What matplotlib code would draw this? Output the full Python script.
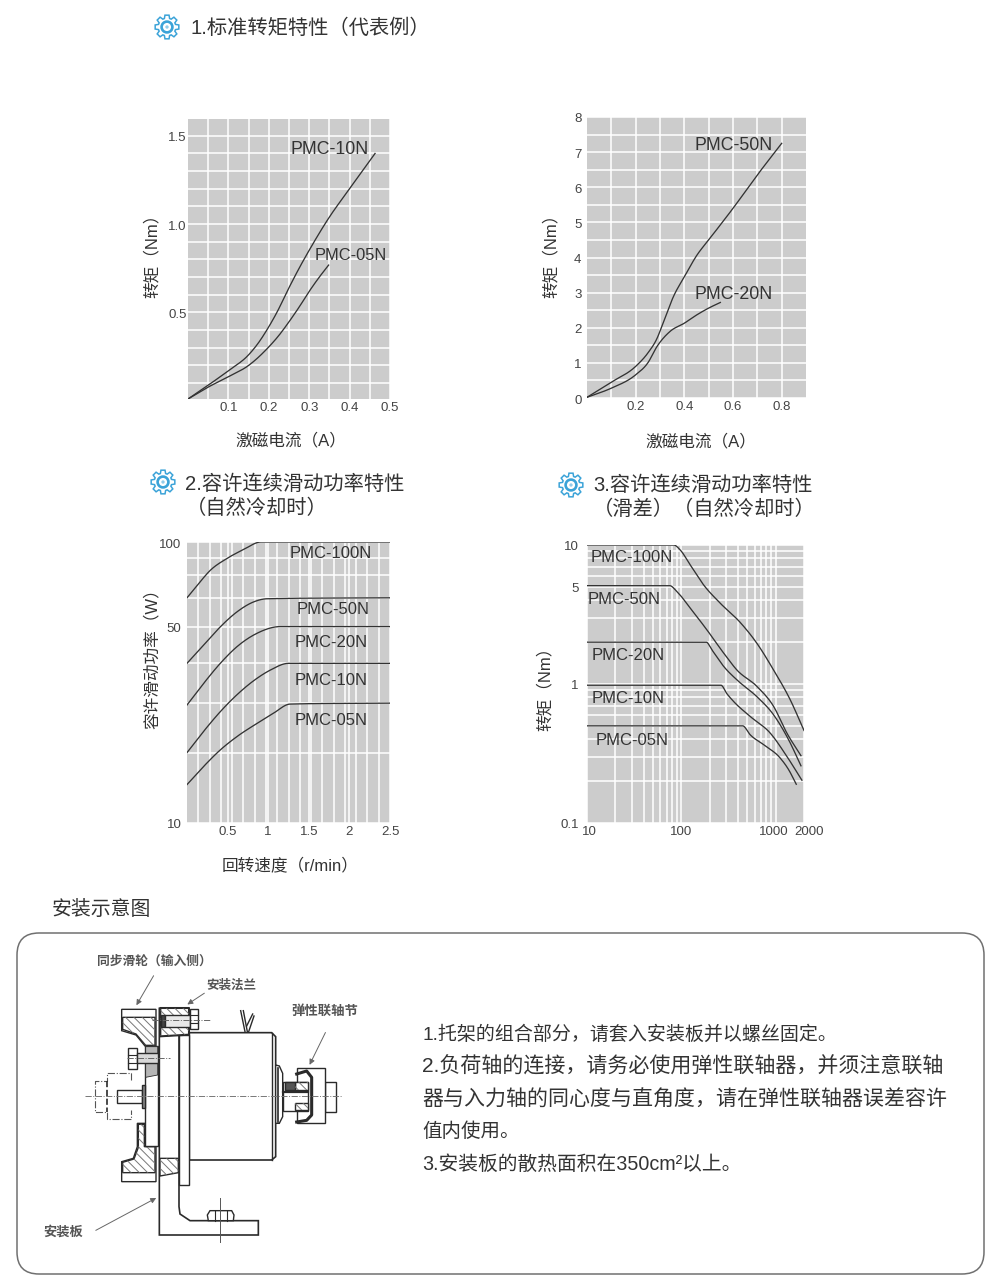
import matplotlib
matplotlib.use("Agg")
import matplotlib.pyplot as plt
import numpy as np
from matplotlib.patches import Polygon, FancyBboxPatch, Circle
from matplotlib.transforms import ScaledTranslation

plt.rcParams['font.family'] = ['Liberation Sans', 'Noto Sans CJK SC', 'DejaVu Sans']
plt.rcParams['hatch.linewidth'] = 0.7

W, H = 1000, 1287
GRAY = "#cccccc"
INK = "#333333"
BLUE = "#3ba3d8"

# 图1 标准转矩特性
c1_x_10 = [0, .048, .1, .15, .175, .195, .22, .25, .275, .302, .35, .4, .463]
c1_y_10 = [.01, .085, .17, .26, .33, .40, .50, .64, .75, .86, 1.04, 1.20, 1.40]
c1_x_05 = [0, .048, .1, .15, .198, .225, .25, .275, .302, .325, .348]
c1_y_05 = [.01, .075, .136, .20, .30, .37, .447, .53, .626, .70, .768]
c1_xgrid = [.05, .15, .25, .35, .45, .1, .2, .3, .4, .5]
c1_ygrid = [.1, .2, .3, .4, .6, .7, .8, .9, 1.1, 1.2, 1.3, 1.4, .5, 1.0, 1.5]

# 图2
c2_x_50 = [0, .1, .2, .25, .288, .315, .356, .4, .452, .5, .6, .7, .8]
c2_y_50 = [.02, .45, .9, 1.28, 1.70, 2.18, 2.9, 3.45, 4.07, 4.5, 5.4, 6.35, 7.25]
c2_x_20 = [0, .1, .2, .25, .288, .342, .4, .452, .5, .548]
c2_y_20 = [.02, .28, .66, 1.0, 1.47, 1.9, 2.13, 2.37, 2.56, 2.72]
c2_xgrid = [.1, .2, .3, .4, .5, .6, .7, .8]
c2_ygrid = [.5, 1, 1.5, 2, 2.5, 3, 3.5, 4, 4.5, 5, 5.5, 6, 6.5, 7, 7.5]

# 图3 容许连续滑动功率
c3_x_100 = [0, .143, .287, .49, .697, .91, 2.5]
c3_y_100 = [63.3, 71.1, 79.3, 87.3, 94, 100, 100]
c3_x_50 = [0, .205, .41, .615, .82, .984, 2.5]
c3_y_50 = [37, 43, 49.9, 56.4, 61.2, 62.8, 63.3]
c3_x_20 = [0, .205, .41, .615, .86, 1.148, 2.5]
c3_y_20 = [26.3, 31.4, 37, 42.4, 47.3, 50, 50]
c3_x_10 = [0, .205, .41, .615, .86, 1.025, 1.25, 2.5]
c3_y_10 = [17.8, 21.2, 24.9, 28.6, 32.7, 35, 37, 37]
c3_x_05 = [0, .205, .41, .615, .86, 1.066, 1.27, 2.5]
c3_y_05 = [13.7, 15.9, 18.2, 20.3, 22.6, 24.6, 26.5, 26.7]
c3_xgrid = [2.5 * k / 18 for k in range(1, 18)]
c3_ygrid = [17.8, 26.7, 37, 63, 76.5, 88]

# 图4 滑差
c4_x_100 = [10, 83, 97.5, 124.5, 172.5, 259, 422, 634, 952, 1429, 2000]
c4_y_100 = [10, 10, 9.2, 7.18, 5.16, 3.81, 2.77, 1.96, 1.26, .77, .463]
c4_x_50 = [10, 75.2, 90, 124.5, 187, 281, 389, 634, 952, 1318, 1857]
c4_y_50 = [5.1, 5.1, 4.62, 3.51, 2.45, 1.67, 1.26, .96, .69, .443, .305]
c4_x_20 = [10, 184, 211, 281, 389, 634, 952, 1374, 1857]
c4_y_20 = [2, 2, 1.76, 1.34, 1.07, .81, .6, .397, .258]
c4_x_10 = [10, 263, 305, 359, 538, 878, 1318, 1901]
c4_y_10 = [.98, .98, .85, .748, .584, .443, .301, .203]
c4_x_05 = [10, 447, 538, 746, 1120, 1374, 1656]
c4_y_05 = [.5, .5, .431, .366, .293, .242, .19]
c4_xgrid = [20, 30, 40, 50, 60, 70, 80, 90, 200, 300, 400, 500, 600, 700, 800, 900]
c4_ygrid = [.2, .3, .4, .5, .6, .7, .8, .9, 2, 3, 4, 6, 7, 8, 9]

body_lines = [
    "1.托架的组合部分，请套入安装板并以螺丝固定。",
    "2.负荷轴的连接，请务必使用弹性联轴器，并须注意联轴",
    "器与入力轴的同心度与直角度，请在弹性联轴器误差容许",
    "值内使用。",
    "3.安装板的散热面积在350cm²以上。",
]
body_y = [1033, 1065, 1098, 1130, 1163]
body_size = [13.7, 15.1, 15.1, 14, 14.2]

fig = plt.figure(figsize=(W / 100, H / 100), dpi=100, facecolor="white")


def chart(box, xlim, ylim, xscale="linear", yscale="linear"):
    l, t, r, b = box
    ax = fig.add_axes([l / W, 1 - b / H, (r - l) / W, (b - t) / H])
    ax.set_facecolor(GRAY)
    for s in ax.spines.values():
        s.set_visible(False)
    ax.set_xscale(xscale)
    ax.set_yscale(yscale)
    ax.set_xlim(xlim)
    ax.set_ylim(ylim)
    return ax


def finish(ax, xticks, xlabels, yticks, ylabels, xgrid, ygrid, ypad):
    ax.set_xticks(xticks, xlabels)
    ax.set_yticks(yticks, ylabels)
    ax.set_xticks(xgrid, [""] * len(xgrid), minor=True)
    ax.set_yticks(ygrid, [""] * len(ygrid), minor=True)
    ax.grid(which="both", color="white", lw=1.1)
    ax.set_axisbelow(True)
    ax.tick_params(which="both", length=0, labelsize=9.5, labelcolor="#444444")
    ax.tick_params(axis="x", which="major", pad=2.5)
    ax.tick_params(axis="y", which="major", pad=ypad)
    for lab in ax.get_yticklabels():
        lab.set_transform(lab.get_transform() + ScaledTranslation(0, -1 / 100, fig.dpi_scale_trans))


def hermite(x, y):
    # 单调三次样条，只用来把读出的点连成平滑曲线
    x, y = np.asarray(x, float), np.asarray(y, float)
    h = np.diff(x)
    m = np.diff(y) / h
    t = np.zeros_like(x)
    t[0], t[-1] = m[0], m[-1]
    for i in range(1, len(x) - 1):
        if m[i - 1] * m[i] > 0:
            avg = (h[i] * m[i - 1] + h[i - 1] * m[i]) / (h[i - 1] + h[i])
            t[i] = np.sign(avg) * min(abs(avg), 3 * min(abs(m[i - 1]), abs(m[i])))
    xs, ys = [], []
    for i in range(len(h)):
        u = np.linspace(0, 1, 25)
        xs.append(x[i] + u * h[i])
        ys.append((2 * u**3 - 3 * u**2 + 1) * y[i] + (u**3 - 2 * u**2 + u) * h[i] * t[i]
                  + (3 * u**2 - 2 * u**3) * y[i + 1] + (u**3 - u**2) * h[i] * t[i + 1])
    return np.concatenate(xs), np.concatenate(ys)


def curve(ax, x, y):
    logx, logy = ax.get_xscale() == "log", ax.get_yscale() == "log"
    xs, ys = hermite(np.log10(x) if logx else x, np.log10(y) if logy else y)
    ax.plot(10**xs if logx else xs, 10**ys if logy else ys, color=INK, lw=0.95)


# 四个图
ax1 = chart((188, 119, 390, 399), (0, .5), (.01, 1.595))
curve(ax1, c1_x_10, c1_y_10)
curve(ax1, c1_x_05, c1_y_05)
finish(ax1, [.1, .2, .3, .4, .5], ["0.1", "0.2", "0.3", "0.4", "0.5"],
       [.5, 1.0, 1.5], ["0.5", "1.0", "1.5"], c1_xgrid, c1_ygrid, 1)

ax2 = chart((587, 117, 806, 398), (0, .9), (0, 8))
curve(ax2, c2_x_50, c2_y_50)
curve(ax2, c2_x_20, c2_y_20)
finish(ax2, [.2, .4, .6, .8], ["0.2", "0.4", "0.6", "0.8"],
       list(range(9)), [str(i) for i in range(9)], c2_xgrid, c2_ygrid, 4)

ax3 = chart((187, 542, 390, 823), (0, 2.5), (10, 100), yscale="log")
for xs, ys in [(c3_x_100, c3_y_100), (c3_x_50, c3_y_50), (c3_x_20, c3_y_20),
               (c3_x_10, c3_y_10), (c3_x_05, c3_y_05)]:
    curve(ax3, xs, ys)
finish(ax3, [.5, 1, 1.5, 2, 2.5], ["0.5", "1", "1.5", "2", "2.5"],
       [10, 50, 100], ["10", "50", "100"], c3_xgrid, c3_ygrid, 4)

ax4 = chart((587, 545, 804, 823), (10, 2000), (.1, 10), "log", "log")
for xs, ys in [(c4_x_100, c4_y_100), (c4_x_50, c4_y_50), (c4_x_20, c4_y_20),
               (c4_x_10, c4_y_10), (c4_x_05, c4_y_05)]:
    curve(ax4, xs, ys)
finish(ax4, [10, 100, 1000, 2000], ["10", "100", "1000", "2000"],
       [.1, 1, 5, 10], ["0.1", "1", "5", "10"], c4_xgrid, c4_ygrid, 6)
for lab, dx in zip(ax4.get_xticklabels(), [2, 0, -2, 5]):
    lab.set_transform(lab.get_transform() + ScaledTranslation(dx / 100, 0, fig.dpi_scale_trans))

# 整页坐标的覆盖层：文字、图标、外框
ov = fig.add_axes([0, 0, 1, 1], zorder=5)
ov.set_xlim(0, W)
ov.set_ylim(H, 0)
ov.axis("off")


def label(x, y, s, size=12, ha="center", rot=0, color=INK):
    if rot:
        x += 2
    else:
        y += 1.5
    ov.text(x, y, s, fontsize=size, ha=ha, va="center", rotation=rot, color=color)


def gear(cx, cy, r=12):
    ang, rad = [], []
    for k in range(8):
        a = k * np.pi / 4
        ang += [a - .30, a - .17, a + .17, a + .30]
        rad += [r * .74, r, r, r * .74]
    ang = np.array(ang)
    rad = np.array(rad)
    ov.add_patch(Polygon(np.c_[cx + rad * np.cos(ang), cy + rad * np.sin(ang)],
                         closed=True, fc="white", ec=BLUE, lw=1.1))
    ov.add_patch(Circle((cx, cy), r * .45, fc="white", ec=BLUE, lw=1.9))
    ov.add_patch(Circle((cx, cy), r * .14, fc=BLUE, ec="none", alpha=.55))


gear(167, 27)
gear(163, 482)
gear(571, 485)
label(190, 27, "1.标准转矩特性（代表例）", 14.6, "left")
label(185, 482.5, "2.容许连续滑动功率特性", 14.6, "left")
label(186, 507, "（自然冷却时）", 14.6, "left")
label(593, 484, "3.容许连续滑动功率特性", 14.6, "left")
label(593, 508, "（滑差）（自然冷却时）", 14.6, "left")
label(52, 908, "安装示意图", 14.3, "left")

label(291, 439, "激磁电流（A）")
label(701, 440, "激磁电流（A）")
label(290, 864, "回转速度（r/min）")
label(150, 252, "转矩（Nm）", rot=90)
label(549, 252, "转矩（Nm）", rot=90)
label(150, 655, "容许滑动功率（W）", rot=90)
label(543, 685, "转矩（Nm）", rot=90)

for x, y, s, fs in [(330, 148, "PMC-10N", 12.8), (351, 254, "PMC-05N", 11.8),
                    (734, 144, "PMC-50N", 12.8), (734, 293, "PMC-20N", 12.8),
                    (331, 552, "PMC-100N", 12), (333, 608, "PMC-50N", 12), (331, 641, "PMC-20N", 12),
                    (331, 679, "PMC-10N", 12), (331, 719, "PMC-05N", 12),
                    (632, 556, "PMC-100N", 12), (624, 598, "PMC-50N", 12), (628, 654, "PMC-20N", 12),
                    (628, 697, "PMC-10N", 12), (632, 739, "PMC-05N", 12)]:
    label(x, y, s, fs)

ov.add_patch(FancyBboxPatch((17, 933), 967, 341, boxstyle="round,pad=0,rounding_size=22",
                            fc="none", ec="#707070", lw=1.1))

for s, y, fs in zip(body_lines, body_y, body_size):
    label(422, y, s, fs, "left")

# 安装示意图（坐标按 340x330 裁剪放大3倍量取）
d = fig.add_axes([30 / W, 1 - 1270 / H, 340 / W, 330 / H], zorder=4)
d.set_xlim(0, 1020)
d.set_ylim(990, 0)
d.axis("off")
LINE = "#2a2a2a"


def poly(pts, hatch=None, fc="white", lw=1.0, z=2):
    d.add_patch(Polygon(pts, closed=True, fc=fc, ec=LINE, lw=lw, zorder=z))
    if hatch:
        d.add_patch(Polygon(pts, closed=True, fc="none", ec="#777777", lw=0, hatch=hatch, zorder=z + .1))


def seg(xs, ys, lw=1.0, ls="-", color=LINE, z=6):
    d.plot(xs, ys, color=color, lw=lw, ls=ls, zorder=z)


# 左侧滑轮
poly([(275, 208), (378, 208), (378, 318), (345, 318), (318, 285), (275, 272)], z=2)
poly([(278, 232), (375, 232), (375, 316), (347, 316), (318, 282), (278, 268)], hatch="\\\\\\\\", z=2.2)
poly([(322, 550), (345, 550), (345, 618), (378, 618), (378, 725), (275, 725), (275, 665), (310, 655), (322, 620)], z=2)
poly([(325, 553), (343, 553), (343, 620), (375, 620), (375, 698), (278, 698), (278, 667), (312, 657), (325, 622)],
     hatch="\\\\\\\\", z=2.2)
# 轮毂、螺栓
poly([(345, 318), (385, 318), (385, 618), (345, 618)], z=3)
poly([(347, 320), (383, 320), (383, 405), (347, 412)], fc="#b5b5b5", z=3.1, lw=.6)
poly([(295, 325), (320, 325), (320, 388), (295, 388)], z=3.2)
poly([(320, 340), (385, 340), (385, 370), (320, 370)], fc="#d8d8d8", z=3.3)
seg([295, 320], [345, 345], .8)
seg([295, 320], [368, 368], .8)
seg([290, 420], [355, 355], .7, "-.", "#666666")
# 左端轴与虚线件
poly([(262, 450), (335, 450), (335, 488), (262, 488)], z=3)
poly([(335, 435), (345, 435), (345, 505), (335, 505)], fc="#888888", z=3)
seg([303, 303, 232, 232, 195, 195, 232, 232, 303, 303], [420, 398, 398, 422, 422, 515, 515, 537, 537, 510],
    .8, "-.", "#555555")
seg([232, 232], [422, 515], 1.2, "--")
seg([165, 935], [468, 468], .7, "-.", "#777777", z=8)
# L形支架
poly([(388, 205), (447, 205), (447, 800), (450, 822), (480, 842), (685, 842), (685, 885), (388, 885)], z=1.5, lw=1.2)
poly([(447, 285), (478, 285), (478, 735), (447, 735)], z=3)
poly([(390, 655), (445, 655), (445, 698), (390, 708)], hatch="\\\\\\\\", z=3)
# 上部法兰
poly([(390, 203), (478, 203), (478, 285), (390, 290)], z=3)
poly([(392, 205), (476, 205), (476, 283), (392, 288)], hatch="\\\\\\\\", z=3.1)
poly([(392, 225), (405, 225), (405, 262), (392, 262)], fc="#444444", z=3.3)
poly([(405, 225), (480, 225), (480, 262), (405, 262)], z=3.3, fc="#e8e8e8")
poly([(480, 208), (505, 208), (505, 268), (480, 268)], z=3.4)
seg([480, 505], [225, 225], .8)
seg([480, 505], [250, 250], .8)
seg([365, 540], [240, 240], .7, "-.", "#666666")
# 本体
poly([(478, 278), (725, 278), (737, 290), (737, 650), (725, 660), (478, 660)], z=2.5, lw=1.2)
seg([725, 725], [278, 660], 1.0)
poly([(737, 375), (748, 378), (758, 400), (758, 530), (748, 550), (737, 550)], z=3)
seg([744, 744], [385, 545], 1.2)
# 输出轴与联轴节
poly([(800, 385), (885, 385), (885, 550), (800, 550)], z=3)
poly([(885, 425), (918, 425), (918, 517), (885, 517)], z=2.8)
poly([(760, 425), (835, 425), (835, 512), (760, 512)], z=3.2)
poly([(795, 425), (835, 425), (835, 450), (795, 450)], hatch="\\\\\\\\", z=3.4)
poly([(795, 490), (835, 490), (835, 510), (795, 510)], hatch="\\\\\\\\", z=3.4)
poly([(765, 425), (795, 425), (795, 450), (765, 450)], fc="#555555", z=3.4)
seg([800, 830, 845, 845, 830, 800], [402, 393, 412, 525, 541, 546], 2.2)
seg([760, 835], [455, 455], 1.6)
# 底部螺栓
poly([(540, 812), (605, 812), (612, 825), (610, 842), (535, 842), (532, 825)], z=3)
seg([555, 555], [812, 842], .8)
seg([590, 590], [812, 842], .8)
seg([570, 570], [775, 905], .7, "-", "#555555")
# 引线
seg([632, 645], [212, 275], 1.0)
seg([640, 652], [212, 275], 1.0)
seg([668, 650], [222, 258], 1.0)
seg([672, 656], [228, 275], 1.0)

# 引出箭头与文字
for tail, head in [((375, 100), (315, 203)), ((530, 155), (465, 198)),
                   ((890, 270), (835, 382)), ((190, 875), (386, 770))]:
    d.annotate("", xy=head, xytext=tail, zorder=7,
               arrowprops=dict(arrowstyle="-|>", color="#666666", lw=.7, mutation_scale=8))
for x, y, s, fs in [(200, 65, "同步滑轮（输入侧）", 9.2), (528, 137, "安装法兰", 9),
                    (785, 213, "弹性联轴节", 9.6), (40, 878, "安装板", 9.5)]:
    d.text(x, y, s, fontsize=fs, ha="left", va="center", color="#555555", fontweight="bold", zorder=9)

fig.savefig("out.png", dpi=100)
